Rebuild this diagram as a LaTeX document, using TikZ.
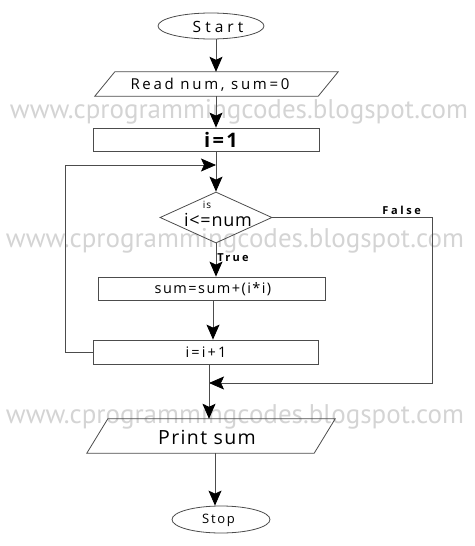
\documentclass[tikz,border=0pt]{standalone}
\usepackage{fontspec}
\setmainfont{Open Sans}
\newfontfamily\wmfont{PT Sans}
\usetikzlibrary{shapes.geometric,arrows.meta}
\begin{document}
\begin{tikzpicture}[x=1pt,y=-1pt,
  line/.style={draw=black!70,line width=0.8pt},
  arr/.style={line,-{Stealth[length=15pt,width=13pt,inset=3pt,color=black]}},
  oval/.style={ellipse,line,inner sep=0pt},
  boxnode/.style={rectangle,line,inner sep=0pt},
  parabox/.style={rectangle,draw=none,inner sep=0pt},
  dia/.style={diamond,line,inner sep=0pt,aspect=2.2},
  txt/.style 2 args={inner sep=0pt,font=\fontsize{#1}{#1}\selectfont\addfontfeature{LetterSpace=#2}},
  btxt/.style 2 args={inner sep=0pt,font=\fontsize{#1}{#1}\selectfont\bfseries\addfontfeature{LetterSpace=#2}},
  wm/.style={inner sep=0pt,anchor=base,text=black!17,font=\wmfont\fontsize{27}{27}\selectfont}
]
\useasboundingbox (0,0) rectangle (474,546);
% watermarks
\node[wm] (wm1) at (239,118) {www.cprogrammingcodes.blogspot.com};
\node[wm] (wm2) at (235,247) {www.cprogrammingcodes.blogspot.com};
\node[wm] (wm3) at (235,423) {www.cprogrammingcodes.blogspot.com};
% columns
\coordinate (cA) at (216,0);
\coordinate (cB) at (213,0);
\coordinate (cC) at (209,0);
\coordinate (cD) at (215,0);
% shapes
\node[oval,minimum width=106pt,minimum height=26pt] (start) at (211,26) {};
\node[txt={15.5}{26}] (startt) at (218,27) {Start};
\node[parabox,minimum width=243pt,minimum height=24pt] (read) at (216.5,84) {};
\draw[line] (read.south west) -- ([xshift=20pt]read.north west) -- (read.north east) -- ([xshift=-20pt]read.south east) -- cycle;
\node[txt={15}{18}] (readt) at (210,85) {Read num, sum=0};
\node[boxnode,minimum width=226pt,minimum height=23pt] (i1) at (206,139.5) {};
\node[btxt={20}{12}] (i1t) at (221,139.5) {i=1};
\node[dia,minimum width=112pt,minimum height=51pt] (cond) at (216,217.5) {};
\node[txt={10}{8}] (condis) at (207,205) {is};
\node[txt={18}{4}] (condt) at (218,220) {i<=num};
\node[boxnode,minimum width=227pt,minimum height=23pt] (sum) at (211.5,288.5) {};
\node[txt={14.5}{10}] (sumt) at (213,289) {sum=sum+(i*i)};
\node[boxnode,minimum width=225pt,minimum height=24pt] (inc) at (205.5,352) {};
\node[txt={14.5}{15}] (inct) at (206,352.5) {i=i+1};
\node[parabox,minimum width=248pt,minimum height=34pt] (print) at (211,436) {};
\draw[line] (print.south west) -- ([xshift=21pt]print.north west) -- (print.north east) -- ([xshift=-21pt]print.south east) -- cycle;
\node[txt={19.5}{7}] (printt) at (207,437) {Print sum};
\node[oval,minimum width=98pt,minimum height=27pt] (stop) at (221,519.5) {};
\node[txt={13}{13}] (stopt) at (218.5,520) {Stop};
% helper coordinates
\coordinate (loopL) at (65,165);
\coordinate (joinT) at (216,165);
\coordinate (falseR) at (432,217.5);
\coordinate (falseB) at (432,383);
\coordinate (joinB) at (209,383);
% connectors
\draw[arr] (start.south -| cA) -- (read.north -| cA);
\draw[arr] (read.south -| cA) -- (i1.north -| cA);
\draw[arr] (i1.south -| cA) -- (cond.north);
\draw[arr] (inc.west) -| (loopL) -- (joinT);
\draw[arr] (cond.south) -- (sum.north -| cA) node[pos=0.42,right,btxt={11}{20},inner sep=1pt] (truel) {True};
\draw[arr] (cond.east) -- (falseR) node[pos=0.81,above,btxt={11}{24},inner sep=2pt] (falsel) {False} -- (falseB) -- (joinB);
\draw[arr] (sum.south -| cB) -- (inc.north -| cB);
\draw[arr] (inc.south -| cC) -- (print.north -| cC);
\draw[arr] (print.south -| cD) -- (stop.north -| cD);
\end{tikzpicture}
\end{document}
